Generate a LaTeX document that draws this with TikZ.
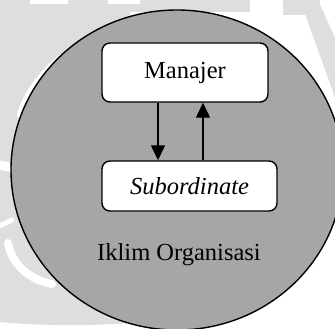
\documentclass[tikz,border=0pt]{standalone}
\usepackage{fontspec}
\setmainfont{Liberation Serif}
\usetikzlibrary{arrows.meta}
\tikzset{
  block/.style={draw=black, line width=1.4pt, fill=white, rounded corners=8pt,
    minimum height=59pt, inner sep=0pt, font=\fontsize{24.5}{28}\selectfont},
  link/.style={line width=1.3pt, -{Triangle[length=15pt,width=14pt]}},
  watermark/.style={fill=black!13, draw=none},
  gap/.style={draw=white, line cap=round}
}
\begin{document}
\begin{tikzpicture}[x=1pt,y=-1pt]
  \useasboundingbox (0,0) rectangle (335,329);
  \clip (0,0) rectangle (335,329);
  \fill[white] (0,0) rectangle (335,329);
  % faint background emblem
  \fill[watermark] (0,0) -- (130,0) -- (130,323)
     .. controls (90,326) and (40,326) .. (0,322) -- cycle;
  \fill[watermark] (130,0) rectangle (250,12);
  \fill[watermark] (283,0) rectangle (320,15);
  \fill[watermark] (300,0) -- (318,0) -- (345,60) -- (345,125) -- cycle;
  \fill[white] (30,0) rectangle (68,4);
  \fill[white] (108,0) rectangle (140,4);
  \draw[gap, line width=6pt] (60,58) .. controls (40,75) and (25,95) .. (20,115);
  \draw[gap, line width=9pt] (-5,164) -- (14,168);
  \draw[gap, line width=5pt] (-5,228) -- (12,220);
  \draw[gap, line width=8pt] (8,243) .. controls (12,265) and (30,280) .. (52,284);
  % climate circle
  \draw[line width=1.4pt, fill=black!35] (177,170) ellipse [x radius=166, y radius=160];
  % actors
  \node[block, minimum width=166pt] (man) at (185,72.5) {Manajer};
  \node[block, minimum width=175pt, minimum height=50pt] (sub) at (189.5,186) {\itshape Subordinate};
  \node[font=\fontsize{24.5}{28}\selectfont] (iklim) at (179,255) {Iklim Organisasi};
  % links between actors
  \draw[link] (man.south -| 158,0) -- (sub.north -| 158,0);
  \draw[link] (sub.north -| 203,0) -- (man.south -| 203,0);
\end{tikzpicture}
\end{document}
